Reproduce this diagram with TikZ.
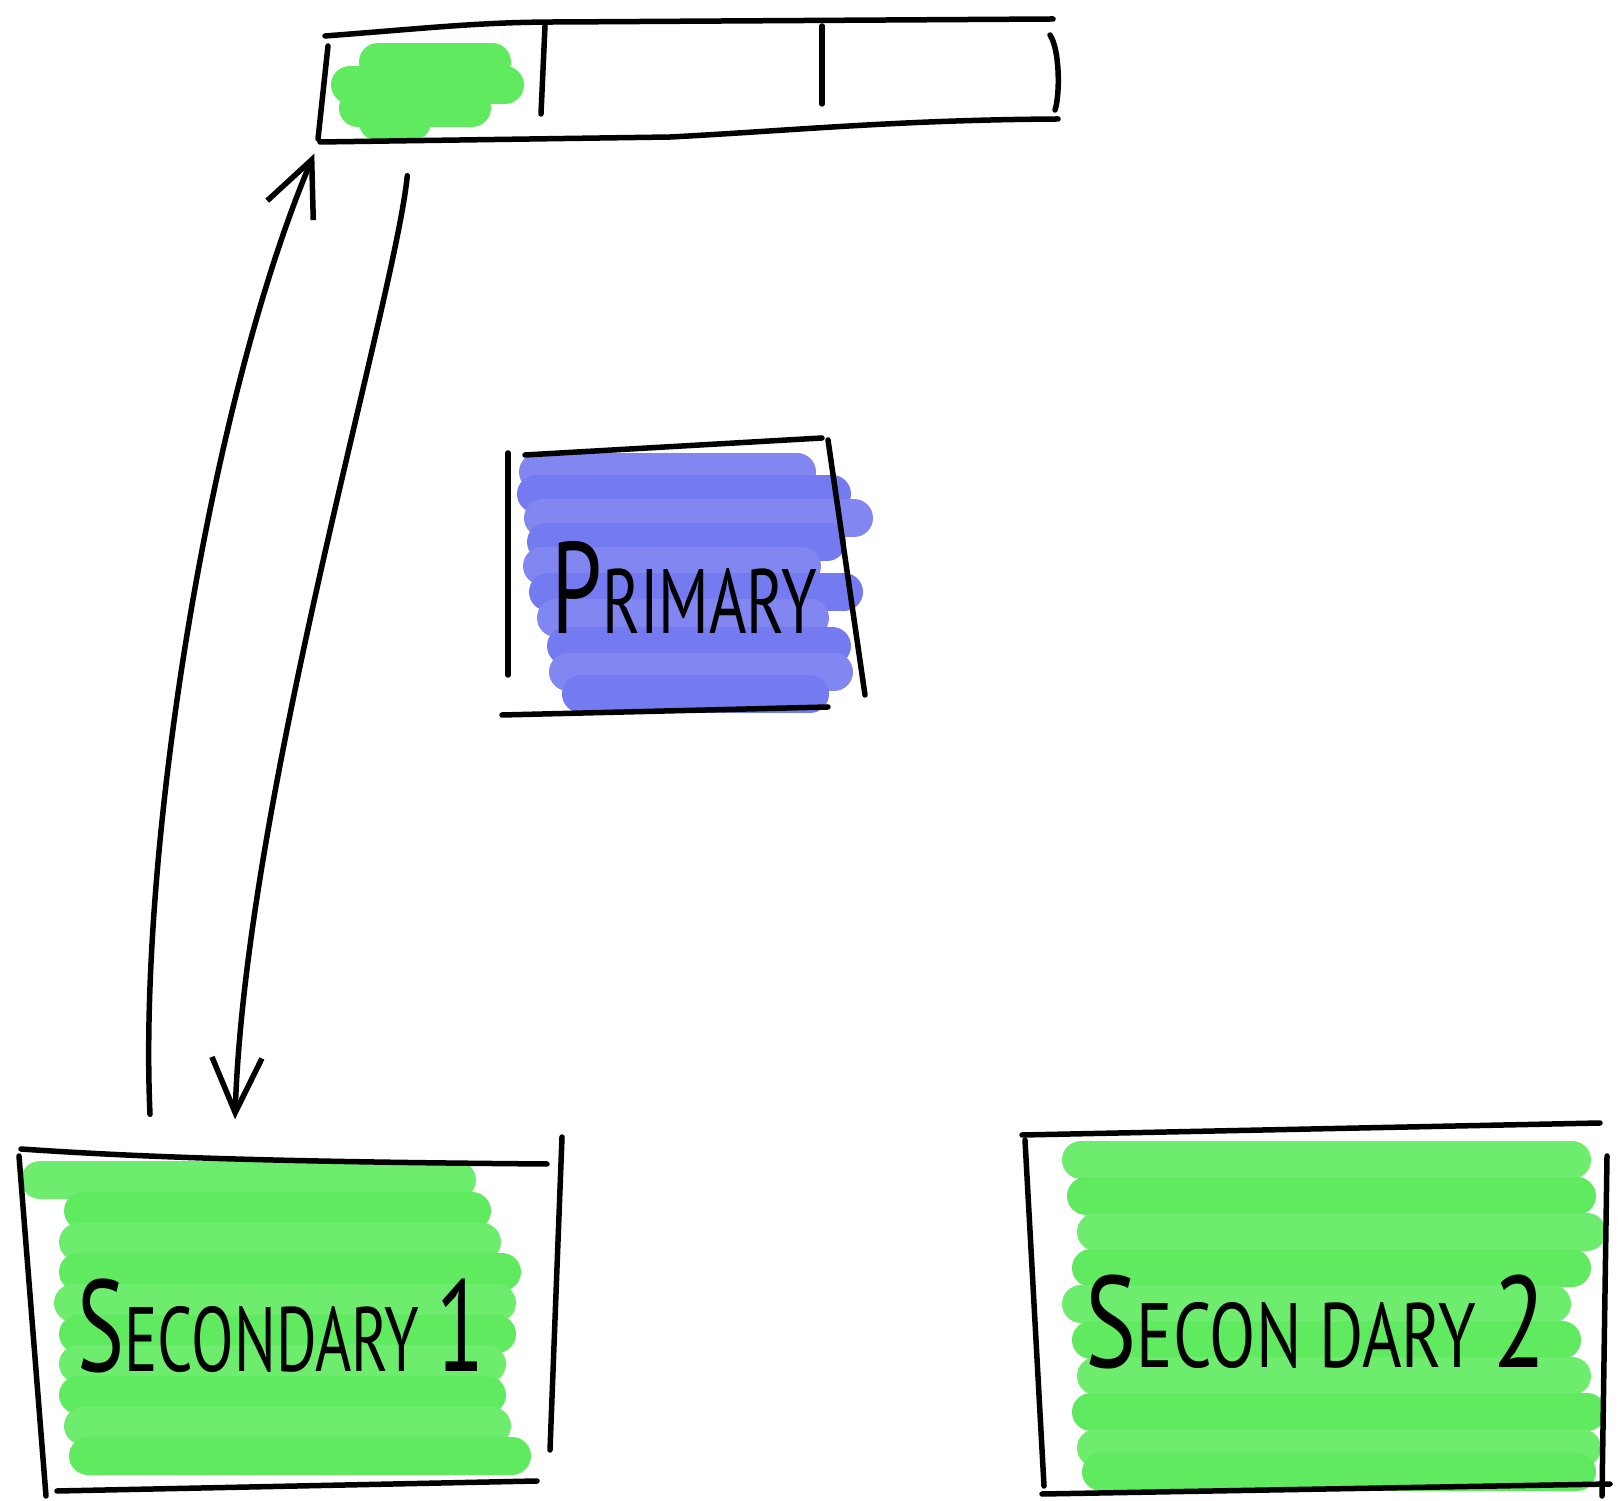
\documentclass[tikz,border=0pt]{standalone}
\usepackage{fontspec}
\setmainfont{PT Sans}
\usetikzlibrary{arrows.meta}
\definecolor{markergreen}{RGB}{96,234,96}
\definecolor{markerblue}{RGB}{116,122,239}
\newcommand{\capbig}{\fontsize{37}{40}\selectfont}
\newcommand{\capsmall}{\fontsize{26}{40}\selectfont}

\begin{document}
\begin{tikzpicture}[x=0.1mm, y=-0.1mm,
    pen/.style={line width=0.55mm, line cap=round, line join=round},
    brush/.style={line width=3.8mm, line cap=round},
    slot/.style={minimum width=22mm, minimum height=10mm, inner sep=0pt},
    box/.style={minimum width=52mm, minimum height=34mm, inner sep=0pt},
    tip/.style={-{Straight Barb[length=5.5mm, width=5mm]}}]
    \useasboundingbox (0,0) rectangle (1618,1501);

    % the slot bar, first slot filled
    \foreach \y/\a/\b in {62/378/492, 85/350/505, 108/358/472, 122/378/412}
        \draw[brush, markergreen] (\a,\y) -- (\b,\y);
    \node[slot] (slot1) at (433,88) {};
    \draw[pen] (325,36) .. controls (430,28) and (480,22) .. (560,22) -- (1053,19);
    \draw[pen] (320,142) -- (671,137) .. controls (800,130) and (900,120) .. (1058,119);
    \draw[pen] (328,46) -- (318,139);
    \draw[pen] (545,26) -- (541,114);
    \draw[pen] (822,26) -- (822,104);
    \draw[pen] (1050,35) .. controls (1060,50) and (1060,95) .. (1055,110);

    % primary
    \foreach \y/\a/\b [count=\i, evaluate=\i as \s using {100-9*mod(\i,2)}] in
            {472/538/797, 494/536/832, 518/543/854, 542/546/827, 566/542/802,
             592/548/844, 618/556/810, 646/566/832, 672/568/834, 694/581/810}
        \draw[brush, markerblue!\s!white] (\a,\y) -- (\b,\y);
    \node[box, minimum width=34mm, minimum height=25mm] (primary) at (684,587)
        {\scalebox{0.7}[1]{\capbig P\capsmall RIMARY}};
    \draw[pen] (508,453) -- (508,675);
    \draw[pen] (525,455) -- (822,438);
    \draw[pen] (828,440) -- (865,695);
    \draw[pen] (502,715) -- (828,707);

    % secondary 1
    \foreach \y/\a/\b [count=\i, evaluate=\i as \s using {100-9*mod(\i,2)}] in
            {1180/40/457, 1211/83/472, 1242/78/482, 1272/78/502, 1303/73/497,
             1334/78/497, 1364/78/487, 1395/78/487, 1426/83/492, 1456/88/512}
        \draw[brush, markergreen!\s!white] (\a,\y) -- (\b,\y);
    \node[box] (sec1) at (281,1326)
        {\scalebox{0.68}[1]{\capbig S\capsmall ECONDARY \capbig 1}};
    \draw[pen] (21,1149) .. controls (150,1158) and (300,1162) .. (547,1164);
    \draw[pen] (19,1156) -- (46,1496);
    \draw[pen] (562,1137) -- (550,1450);
    \draw[pen] (57,1491) -- (537,1481);

    % secondary 2
    \foreach \y/\a/\b [count=\i, evaluate=\i as \s using {100-9*mod(\i,2)}] in
            {1160/1081/1572, 1196/1086/1577, 1232/1096/1587, 1268/1091/1572, 1304/1081/1552,
             1340/1091/1562, 1376/1096/1572, 1412/1091/1587, 1448/1096/1582, 1472/1101/1577}
        \draw[brush, markergreen!\s!white] (\a,\y) -- (\b,\y);
    \node[box, minimum width=55mm] (sec2) at (1316,1322)
        {\scalebox{0.74}[1]{\capbig S\capsmall ECON DARY \capbig 2}};
    \draw[pen] (1022,1135) -- (1600,1123);
    \draw[pen] (1025,1140) -- (1044,1486);
    \draw[pen] (1607,1156) -- (1602,1496);
    \draw[pen] (1042,1494) -- (1610,1484);

    % replication arrows
    \draw[pen, tip] ([xshift=-13.1mm, yshift=4.1mm]sec1.north)
        .. controls (138,850) and (210,400) .. ([xshift=-0.8mm, yshift=-1.5mm]slot1.south west);
    \draw[pen, tip] ([xshift=8.5mm, yshift=-3.7mm]slot1.south west)
        .. controls (395,300) and (245,800) .. ([xshift=-4.6mm, yshift=3.6mm]sec1.north);
\end{tikzpicture}
\end{document}
